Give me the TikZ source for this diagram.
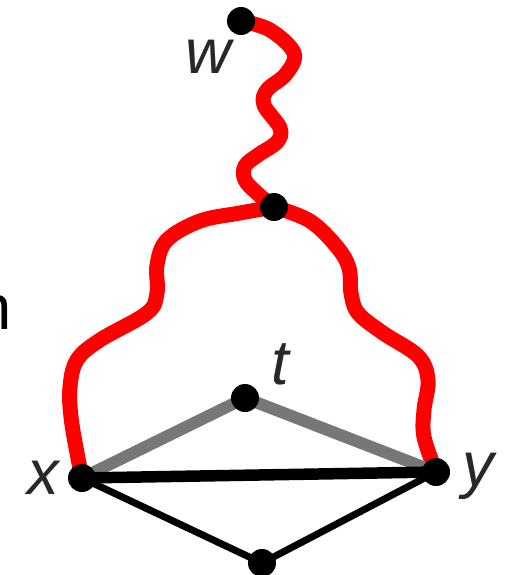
\documentclass[tikz,border=0pt]{standalone}
\usepackage{fontspec}
\setmainfont{Liberation Sans}
\definecolor{pathred}{RGB}{255,0,0}
\definecolor{edgegray}{RGB}{118,120,118}
\definecolor{labelgray}{RGB}{40,40,40}
\begin{document}
\begin{tikzpicture}[x=0.02cm,y=-0.02cm,
  vdot/.style={circle,fill=black,inner sep=0pt,minimum size=0.56cm},
  redpath/.style={draw=pathred,line width=0.30cm,line cap=round,line join=round},
  grayedge/.style={draw=edgegray,line width=0.24cm},
  thickedge/.style={draw=black,line width=0.23cm},
  thinedge/.style={draw=black,line width=0.14cm},
  lab/.style={text=labelgray,inner sep=0pt,font=\fontsize{36}{40}\selectfont\itshape}]
\useasboundingbox (0,0) rectangle (504,575);
\clip (0,0) rectangle (504,575);
% vertices (coordinates first)
\coordinate (w) at (241,21);
\coordinate (m) at (274,207);
\coordinate (t) at (245,398);
\coordinate (x) at (82,478);
\coordinate (y) at (436,472);
\coordinate (b) at (262,563);
% red paths
\draw[redpath] plot[smooth,tension=0.6] coordinates {(w) (270,30) (294,53) (286,74) (267,90) (264,105) (280,128) (277,142) (258,155) (245,166) (245,180) (258,194) (m)};
\draw[redpath] plot[smooth,tension=0.6] coordinates {(m) (240,213) (200,221) (167,240) (157,265) (157,293) (147,313) (100,340) (77,360) (70,387) (71,417) (77,453) (x)};
\draw[redpath] plot[smooth,tension=0.6] coordinates {(m) (310,221) (337,247) (349,268) (351,293) (358,313) (383,333) (418,356) (428,380) (424,410) (424,437) (y)};
% gray edges
\draw[grayedge] (x) -- (t) -- (y);
% black edges
\draw[thickedge] (x) -- (y);
\draw[thinedge] (x) -- (b) -- (y);
% dots
\node[vdot] (nw) at (w) {};
\node[vdot] (nm) at (m) {};
\node[vdot] (nt) at (t) {};
\node[vdot] (nx) at (x) {};
\node[vdot] (ny) at (y) {};
\node[vdot] (nb) at (b) {};
% labels
\node[lab] (lw) at (208,57) {w};
\node[lab] (lt) at (280,364) {t};
\node[lab] (lx) at (43,478) {x};
\node[lab] (ly) at (478,476) {y};
\node[lab,anchor=east,font=\fontsize{36}{40}\selectfont,text=black] (ln) at (12,312) {n};
\end{tikzpicture}
\end{document}
